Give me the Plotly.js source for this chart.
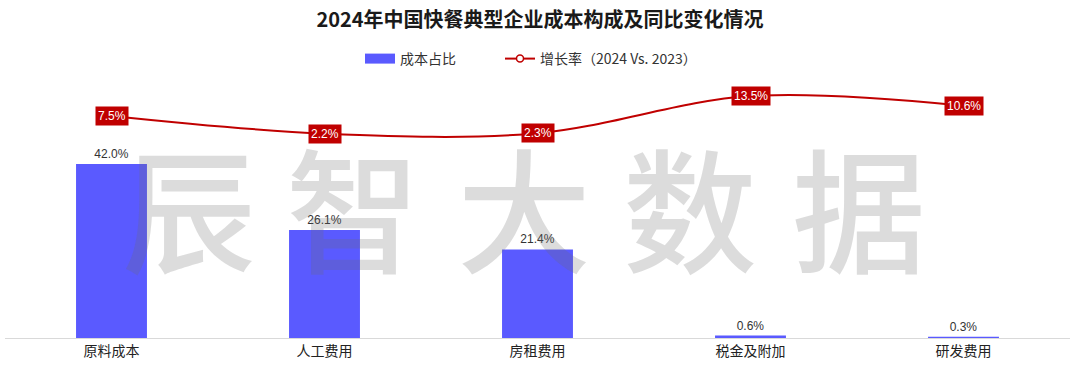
<!DOCTYPE html>
<html>
<head>
<meta charset="utf-8">
<script src="https://cdn.plot.ly/plotly-3.0.1.min.js"></script>
<style>html,body{margin:0;padding:0;background:#fff;}#chart{width:1080px;height:379px;}</style>
</head>
<body>
<div id="chart"></div>
<script>
var categories = ['原料成本', '人工费用', '房租费用', '税金及附加', '研发费用'];
var shareValues = [42.0, 26.1, 21.4, 0.6, 0.3];
var growthValues = [7.5, 2.2, 2.3, 13.5, 10.6];
var watermarkChars = ['辰', '智', '大', '数', '据'];

var FONT = '"Noto Sans CJK SC", "Noto Sans", Arial, sans-serif';
var BAR_COLOR = '#5a5aff';
var LINE_COLOR = '#c00000';

var barTrace = {
  type: 'bar',
  name: '成本占比',
  x: categories,
  y: shareValues,
  width: 0.333,
  marker: {color: BAR_COLOR},
  text: shareValues.map(function(v){return v.toFixed(1) + '%';}),
  textposition: 'outside',
  cliponaxis: false,
  textfont: {family: 'Arial, "Liberation Sans", sans-serif', size: 12, color: '#333333'},
  showlegend: false,
  hoverinfo: 'none'
};

var legendBar = {
  type: 'scatter',
  mode: 'lines',
  name: '成本占比',
  x: [null],
  y: [null],
  line: {color: BAR_COLOR, width: 10},
  legend: 'legend',
  hoverinfo: 'none'
};

var lineTrace = {
  type: 'scatter',
  mode: 'lines',
  name: '增长率（2024 Vs. 2023）',
  x: categories,
  y: growthValues,
  yaxis: 'y2',
  line: {color: LINE_COLOR, width: 2, shape: 'spline', smoothing: 1},
  showlegend: false,
  hoverinfo: 'none'
};

var legendLine = {
  type: 'scatter',
  mode: 'lines+markers',
  name: '增长率（2024 Vs. 2023）',
  x: [null],
  y: [null],
  yaxis: 'y2',
  line: {color: LINE_COLOR, width: 2},
  marker: {symbol: 'circle', size: 7, color: '#ffffff', line: {width: 1.5, color: LINE_COLOR}},
  legend: 'legend2',
  hoverinfo: 'none'
};

var annotations = growthValues.map(function(v, i){
  return {
    x: categories[i], y: v, xref: 'x', yref: 'y2',
    text: v.toFixed(1) + '%', showarrow: false,
    bgcolor: LINE_COLOR, borderpad: 2,
    font: {family: 'Arial, "Liberation Sans", sans-serif', size: 12, color: '#ffffff'},
    xanchor: 'center', yanchor: 'middle'
  };
});

var wmX = [187, 353, 526, 695, 866];
watermarkChars.forEach(function(c, i){
  annotations.push({
    x: wmX[i] / 1080, y: 1 - 184 / 379, xref: 'paper', yref: 'paper',
    text: c, showarrow: false,
    font: {family: FONT, size: 134, weight: 500, color: 'rgba(110,110,110,0.24)'},
    xanchor: 'center', yanchor: 'middle'
  });
});

var legendFont = {family: FONT, size: 14, color: '#333333'};

var layout = {
  width: 1080, height: 379,
  margin: {l: 5, r: 10, t: 80, b: 41},
  paper_bgcolor: '#ffffff', plot_bgcolor: '#ffffff',
  title: {
    text: '<b>2024年中国快餐典型企业成本构成及同比变化情况</b>',
    x: 0.5, xanchor: 'center', y: 1 - 20/379, yanchor: 'middle',
    font: {family: FONT, size: 20, color: '#1a1a1a'}
  },
  showlegend: true,
  legend: {
    orientation: 'h', xref: 'container', x: 360/1080, xanchor: 'left',
    yref: 'container', y: 1 - 59/379, yanchor: 'middle',
    font: legendFont, itemwidth: 30, bgcolor: 'rgba(0,0,0,0)'
  },
  legend2: {
    orientation: 'h', xref: 'container', x: 500/1080, xanchor: 'left',
    yref: 'container', y: 1 - 59/379, yanchor: 'middle',
    font: legendFont, itemwidth: 30, bgcolor: 'rgba(0,0,0,0)'
  },
  xaxis: {
    showline: true, linecolor: '#d9d9d9', linewidth: 1,
    ticks: '', showgrid: false, zeroline: false,
    tickfont: {family: FONT, size: 14, color: '#222222'},
    fixedrange: true
  },
  yaxis: {
    range: [0, 62.3], visible: false, showgrid: false, zeroline: false, fixedrange: true
  },
  yaxis2: {
    range: [-59.2, 18.3], overlaying: 'y', side: 'right', visible: false,
    showgrid: false, zeroline: false, fixedrange: true
  },
  annotations: annotations,
  bargap: 0.667
};

Plotly.newPlot('chart', [barTrace, lineTrace, legendBar, legendLine], layout, {displayModeBar: false, staticPlot: true});
</script>
</body>
</html>
